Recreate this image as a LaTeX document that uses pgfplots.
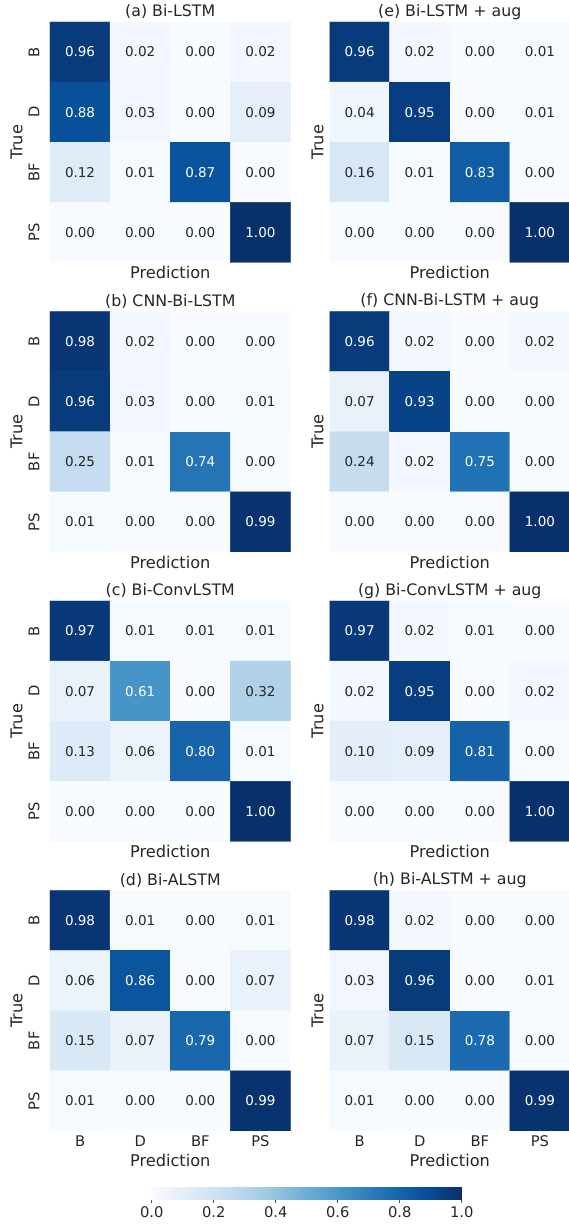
\documentclass[border=0pt]{standalone}
\usepackage{fontspec}
\setmainfont{DejaVu Sans}
\usepackage{pgfplots}
\usepackage{pgfplotstable}
\pgfplotsset{compat=1.18}
\definecolor{txt}{HTML}{262626}

% confusion matrices, one column per panel (rows: true class, x: predicted)
\pgfplotstableread{
x y a e b f c g d h
0 0 0.96 0.96 0.98 0.96 0.97 0.97 0.98 0.98
1 0 0.02 0.02 0.02 0.02 0.01 0.02 0.01 0.02
2 0 0.00 0.00 0.00 0.00 0.01 0.01 0.00 0.00
3 0 0.02 0.01 0.00 0.02 0.01 0.00 0.01 0.00
0 1 0.88 0.04 0.96 0.07 0.07 0.02 0.06 0.03
1 1 0.03 0.95 0.03 0.93 0.61 0.95 0.86 0.96
2 1 0.00 0.00 0.00 0.00 0.00 0.00 0.00 0.00
3 1 0.09 0.01 0.01 0.00 0.32 0.02 0.07 0.01
0 2 0.12 0.16 0.25 0.24 0.13 0.10 0.15 0.07
1 2 0.01 0.01 0.01 0.02 0.06 0.09 0.07 0.15
2 2 0.87 0.83 0.74 0.75 0.80 0.81 0.79 0.78
3 2 0.00 0.00 0.00 0.00 0.01 0.00 0.00 0.00
0 3 0.00 0.00 0.01 0.00 0.00 0.00 0.01 0.01
1 3 0.00 0.00 0.00 0.00 0.00 0.00 0.00 0.00
2 3 0.00 0.00 0.00 0.00 0.00 0.00 0.00 0.00
3 3 1.00 1.00 0.99 1.00 1.00 1.00 0.99 0.99
}\cm

\pgfplotsset{
  /pgf/number format/assume math mode=true,
  colormap={blues}{rgb255=(247,251,255) rgb255=(222,235,247) rgb255=(198,219,239)
    rgb255=(158,202,225) rgb255=(107,174,214) rgb255=(66,146,198)
    rgb255=(33,113,181) rgb255=(8,81,156) rgb255=(8,48,107)},
  cmbase/.style={
    anchor=north west, scale only axis, width=240.5pt, height=240.5pt,
    xmin=-0.5, xmax=3.5, ymin=-0.5, ymax=3.5, y dir=reverse,
    axis line style={draw=none}, major tick length=0pt,
    xtick=\empty, ytick=\empty,
    point meta min=0, point meta max=1,
    title style={at={(axis description cs:0.5,1)}, anchor=center, yshift=4pt,
      font=\fontsize{15.8}{18}\selectfont, text=txt},
    xlabel={Prediction}, ylabel={True},
    label style={font=\fontsize{16.2}{19}\selectfont, text=txt},
    ticklabel style={font=\fontsize{14.7}{17}\selectfont, text=txt},
  },
  leftcol/.style={
    ytick={0,1,2,3}, yticklabels={B,D,BF,PS},
    yticklabel style={rotate=90, anchor=south},
    yticklabel shift=7pt,
    ylabel style={at={(axis description cs:-0.1385,0.5)}, anchor=center},
  },
  rightcol/.style={
    ylabel style={at={(axis description cs:-0.05,0.5)}, anchor=center},
  },
  midrow/.style={
    xlabel style={at={(axis description cs:0.5,0)}, anchor=center, yshift=-10pt},
  },
  botrow/.style={
    xtick={0,1,2,3}, xticklabels={B,D,BF,PS},
    xticklabel shift=1pt,
    xlabel style={at={(axis description cs:0.5,0)}, anchor=center, yshift=-29.5pt},
  },
  cellnums/.style={
    draw=none, mark=none, point meta=explicit,
    nodes near coords={\ifdim\pgfplotspointmetatransformed pt>500pt\color{white}\else\color{txt}\fi
      \pgfmathprintnumber[fixed,fixed zerofill,precision=2]{\pgfplotspointmeta}},
    nodes near coords align=center,
    every node near coord/.append style={font=\fontsize{13.5}{16}\selectfont, anchor=center},
  },
}

\newcommand{\panel}[1]{%
  \addplot[matrix plot*, mesh/cols=4, point meta=explicit] table[x=x, y=y, meta=#1] {\cm};
  \addplot[cellnums] table[x=x, y=y, meta=#1] {\cm};
}

\begin{document}
\begin{tikzpicture}
\useasboundingbox (0pt,0pt) rectangle (569pt,1228pt);

% colour scale, sampled at the colormap stops
\begin{axis}[at={(151.7pt,41.3pt)}, anchor=north west, scale only axis,
  width=310pt, height=13.3pt,
  xmin=0, xmax=1, ymin=0, ymax=1,
  point meta min=0, point meta max=1,
  axis line style={draw=none}, ytick=\empty,
  xtick={0,0.2,0.4,0.6,0.8,1.0},
  xtick pos=bottom, tick align=outside, major tick length=3.5pt,
  tick style={draw=txt!80, line width=0.8pt},
  xticklabel style={font=\fontsize{14.7}{17}\selectfont, text=txt},
  xticklabel={\pgfmathprintnumber[fixed,fixed zerofill,precision=1]{\tick}}]
\addplot[surf, shader=interp, mesh/cols=9, point meta=explicit] coordinates {
  (0,0) [0] (0.125,0) [0.125] (0.25,0) [0.25] (0.375,0) [0.375] (0.5,0) [0.5]
  (0.625,0) [0.625] (0.75,0) [0.75] (0.875,0) [0.875] (1,0) [1]
  (0,1) [0] (0.125,1) [0.125] (0.25,1) [0.25] (0.375,1) [0.375] (0.5,1) [0.5]
  (0.625,1) [0.625] (0.75,1) [0.75] (0.875,1) [0.875] (1,1) [1]
};
\end{axis}

\begin{axis}[cmbase, leftcol, midrow, at={(50pt,1206pt)}, title={(a) Bi-LSTM}]
\panel{a}
\end{axis}
\begin{axis}[cmbase, rightcol, midrow, at={(329.5pt,1206pt)}, title={(e) Bi-LSTM + aug}]
\panel{e}
\end{axis}

\begin{axis}[cmbase, leftcol, midrow, at={(50pt,916.5pt)}, title={(b) CNN-Bi-LSTM}]
\panel{b}
\end{axis}
\begin{axis}[cmbase, rightcol, midrow, at={(329.5pt,916.5pt)}, title={(f) CNN-Bi-LSTM + aug}]
\panel{f}
\end{axis}

\begin{axis}[cmbase, leftcol, midrow, at={(50pt,627pt)}, title={(c) Bi-ConvLSTM}]
\panel{c}
\end{axis}
\begin{axis}[cmbase, rightcol, midrow, at={(329.5pt,627pt)}, title={(g) Bi-ConvLSTM + aug}]
\panel{g}
\end{axis}

\begin{axis}[cmbase, leftcol, botrow, at={(50pt,337.5pt)}, title={(d) Bi-ALSTM}]
\panel{d}
\end{axis}
\begin{axis}[cmbase, rightcol, botrow, at={(329.5pt,337.5pt)}, title={(h) Bi-ALSTM + aug}]
\panel{h}
\end{axis}
\end{tikzpicture}
\end{document}
